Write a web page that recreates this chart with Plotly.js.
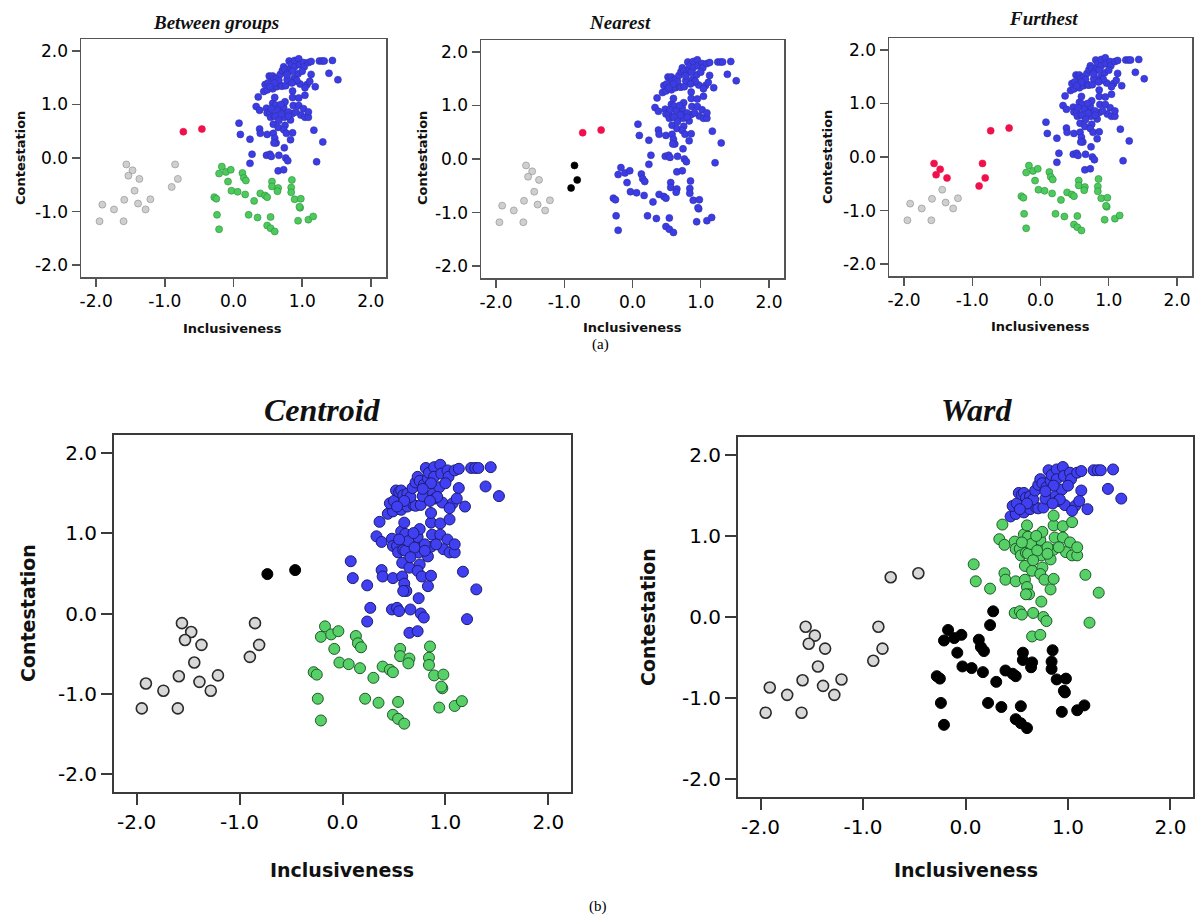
<!DOCTYPE html>
<html>
<head>
<meta charset="utf-8">
<script src="https://cdn.plot.ly/plotly-3.0.1.min.js"></script>
<style>html,body{margin:0;padding:0;background:#fff;}#chart{width:1195px;height:916px;}</style>
</head>
<body>
<div id="chart"></div>
<script>
// ---- Data: groups of countries (Inclusiveness, Contestation) ----
// A: far-left, upper part
const groupA_x = [-1.56, -1.47, -1.53, -1.37];
const groupA_y = [-0.12, -0.23, -0.33, -0.39];
// B: far-left, lower part
const groupB_x = [-1.44, -1.59, -1.21, -1.39, -1.91, -1.74, -1.28, -1.95, -1.60];
const groupB_y = [-0.61, -0.78, -0.77, -0.85, -0.87, -0.96, -0.96, -1.18, -1.18];
// C: middle-left trio
const groupC_x = [-0.85, -0.81, -0.90];
const groupC_y = [-0.12, -0.39, -0.54];
// D: isolated pair
const groupD_x = [-0.73, -0.46];
const groupD_y = [0.49, 0.54];
// E: bridge points
const groupE_x = [0.27, 0.24];
const groupE_y = [0.07, -0.10];
// F: lower-right cloud
const groupF_x = [-0.17,-0.21,-0.11,-0.04,0.13,0.15,0.18,-0.08,-0.03,0.06,0.17,0.30,0.39,0.46,0.49,-0.28,-0.25,-0.24,-0.21,0.22,0.35,0.54,0.49,0.54,0.60,0.56,0.56,0.65,0.64,0.85,0.84,0.84,0.89,0.98,0.97,0.96,0.94,1.09,1.16];
const groupF_y = [-0.16,-0.29,-0.26,-0.22,-0.28,-0.37,-0.42,-0.44,-0.61,-0.63,-0.68,-0.80,-0.66,-0.70,-0.73,-0.73,-0.76,-1.06,-1.33,-1.06,-1.11,-1.10,-1.26,-1.31,-1.37,-0.44,-0.53,-0.56,-0.62,-0.41,-0.55,-0.64,-0.77,-0.76,-0.93,-0.91,-1.17,-1.15,-1.09];
// G: middle-right cloud
const groupG_x = [0.08,0.10,0.24,0.36,0.33,0.38,0.38,0.39,0.49,0.48,0.49,0.53,0.54,0.57,0.60,0.61,0.59,0.61,0.58,0.58,0.60,0.62,0.59,0.65,0.68,0.71,0.73,0.74,0.75,0.73,0.77,0.83,0.86,0.83,0.86,0.87,0.86,0.86,0.95,0.95,1.02,0.98,1.04,1.09,1.09,1.04,1.17,1.30,1.21,0.74,0.48,0.53,0.55,0.66,0.76,0.79,0.65,0.73,0.64,0.70,0.80,0.66,0.80,0.91,0.55,0.75,0.69];
const groupG_y = [0.65,0.44,0.35,1.14,0.96,0.89,0.54,0.46,0.44,0.93,0.84,0.84,0.76,1.02,1.13,0.99,0.79,0.78,0.63,0.46,0.37,0.28,0.28,0.57,0.91,0.87,0.95,0.76,0.61,0.53,0.46,0.34,0.47,0.71,0.83,0.98,1.13,1.25,1.12,0.98,0.92,0.80,0.76,0.76,0.86,1.17,0.52,0.30,-0.07,0.19,0.05,0.07,0.03,0.05,0.00,-0.05,-0.24,-0.22,0.90,0.82,0.86,0.70,0.78,0.86,0.92,1.05,1.00];
// H: top-right cloud
const groupH_x = [0.44,0.49,0.46,0.50,0.52,0.55,0.57,0.59,0.63,0.57,0.63,0.69,0.71,0.76,0.66,0.68,0.71,0.73,0.75,0.78,0.79,0.83,0.81,0.84,0.89,0.89,0.88,0.90,0.95,0.96,0.94,0.97,1.02,1.03,1.07,1.09,1.13,1.13,1.11,1.19,1.04,1.25,1.29,1.32,1.44,1.39,1.52,0.92,0.86,0.78,0.85,1.00,0.60,0.53];
const groupH_y = [1.24,1.27,1.37,1.40,1.53,1.51,1.53,1.47,1.49,1.29,1.33,1.35,1.34,1.35,1.45,1.56,1.63,1.70,1.65,1.46,1.60,1.68,1.81,1.75,1.82,1.70,1.49,1.43,1.85,1.74,1.57,1.38,1.78,1.70,1.37,1.78,1.80,1.56,1.43,1.33,1.31,1.81,1.81,1.81,1.82,1.58,1.46,1.45,1.62,1.55,1.40,1.62,1.40,1.33];

const tickValues = [-2, -1, 0, 1, 2];
const tickLabels = ['-2.0', '-1.0', '0.0', '1.0', '2.0'];
const panelTitles = ['Between groups', 'Nearest', 'Furthest', 'Centroid', 'Ward'];
const axisTitleX = 'Inclusiveness';
const axisTitleY = 'Contestation';

// ---- Helpers ----
const G = {
  A: [groupA_x, groupA_y], B: [groupB_x, groupB_y], C: [groupC_x, groupC_y],
  D: [groupD_x, groupD_y], E: [groupE_x, groupE_y], F: [groupF_x, groupF_y],
  G: [groupG_x, groupG_y], H: [groupH_x, groupH_y]
};
function join(keys) {
  let xs = [], ys = [];
  keys.forEach(k => { xs = xs.concat(G[k][0]); ys = ys.concat(G[k][1]); });
  return [xs, ys];
}
const W = 1195, H = 916;
const px = x => x / W;
const py = y => 1 - y / H;

const smallStyle = {
  gray:  {color: '#cfcfcf', line: '#8a8a8a'},
  blue:  {color: '#3c3ce6', line: '#3030a8'},
  green: {color: '#4ccb5c', line: '#2d8c3c'},
  red:   {color: '#f0104c', line: '#f0104c'},
  black: {color: '#000000', line: '#000000'}
};
const bigStyle = {
  gray:  {color: '#d8d8d8', line: '#2a2a2a'},
  blue:  {color: '#4040f2', line: '#1c1c70'},
  green: {color: '#57d068', line: '#1d5a29'},
  red:   {color: '#f0104c', line: '#600010'},
  black: {color: '#000000', line: '#000000'}
};

const panels = [
  {title: panelTitles[0], box: [81, 386, 39, 277], big: false,
   clusters: [['blue', ['E','G','H']], ['green', ['F']], ['gray', ['A','B','C']], ['red', ['D']]],
   tPos: [216, 22], yPos: [20, 158], xPos: [233, 329]},
  {title: panelTitles[1], box: [481, 784, 40, 278], big: false,
   clusters: [['blue', ['E','F','G','H']], ['gray', ['A','B']], ['black', ['C']], ['red', ['D']]],
   tPos: [620, 22], yPos: [422, 158], xPos: [632, 327]},
  {title: panelTitles[2], box: [889, 1192, 38, 276], big: false,
   clusters: [['blue', ['E','G','H']], ['green', ['F']], ['gray', ['B']], ['red', ['A','C','D']]],
   tPos: [1043, 19], yPos: [827, 157], xPos: [1040, 326]},
  {title: panelTitles[3], box: [114, 571, 435, 792], big: true,
   clusters: [['blue', ['E','G','H']], ['green', ['F']], ['gray', ['A','B','C']], ['black', ['D']]],
   tPos: [322, 410], yPos: [28, 613], xPos: [342, 870]},
  {title: panelTitles[4], box: [738, 1193, 437, 797], big: true,
   clusters: [['black', ['E','F']], ['green', ['G']], ['blue', ['H']], ['gray', ['A','B','C','D']]],
   tPos: [977, 410], yPos: [648, 617], xPos: [966, 870]}
];

const traces = [];
const layout = {
  width: W, height: H, margin: {l: 0, r: 0, t: 0, b: 0},
  paper_bgcolor: '#ffffff', plot_bgcolor: '#ffffff',
  showlegend: false, annotations: []
};

panels.forEach((p, i) => {
  const n = i + 1;
  const xa = 'xaxis' + (n === 1 ? '' : n), ya = 'yaxis' + (n === 1 ? '' : n);
  const xr = 'x' + (n === 1 ? '' : n), yr = 'y' + (n === 1 ? '' : n);
  const styles = p.big ? bigStyle : smallStyle;
  p.clusters.forEach(([col, keys]) => {
    const [xs, ys] = join(keys);
    const st = styles[col];
    traces.push({
      type: 'scatter', mode: 'markers', x: xs, y: ys, xaxis: xr, yaxis: yr,
      hoverinfo: 'x+y',
      marker: {size: p.big ? 11 : 7, color: st.color,
               line: {color: st.line, width: p.big ? (col === 'gray' ? 1.6 : 1) : 0.6}}
    });
  });
  const lineW = p.big ? 2 : 1.5;
  const lineC = p.big ? '#3a3a3a' : '#555555';
  const tickFont = {family: 'DejaVu Sans, Liberation Sans, Arial', size: p.big ? 20 : 17, color: '#000'};
  layout[xa] = {
    domain: [px(p.box[0]), px(p.box[1])], anchor: yr, range: [-2.22, 2.22],
    tickvals: tickValues, ticktext: tickLabels, ticks: 'outside',
    ticklen: p.big ? 11 : 8, tickwidth: lineW, tickcolor: lineC,
    showline: true, mirror: true, linecolor: lineC, linewidth: lineW,
    showgrid: false, zeroline: false, tickfont: tickFont, fixedrange: true
  };
  layout[ya] = {
    domain: [py(p.box[3]), py(p.box[2])], anchor: xr, range: [-2.22, 2.22],
    tickvals: tickValues, ticktext: tickLabels, ticks: 'outside',
    ticklen: p.big ? 11 : 8, tickwidth: lineW, tickcolor: lineC,
    showline: true, mirror: true, linecolor: lineC, linewidth: lineW,
    showgrid: false, zeroline: false, tickfont: tickFont, fixedrange: true
  };
  const axFont = {family: 'DejaVu Sans, Liberation Sans, Arial', size: p.big ? 19 : 13, color: '#111'};
  layout.annotations.push({
    xref: 'paper', yref: 'paper', x: px(p.tPos[0]), y: py(p.tPos[1]),
    xanchor: 'center', yanchor: 'middle', showarrow: false,
    text: '<b><i>' + p.title + '</i></b>',
    font: {family: 'Liberation Serif, Times New Roman, serif', size: p.big ? 32 : 19, color: '#111'}
  });
  layout.annotations.push({
    xref: 'paper', yref: 'paper', x: px(p.xPos[0]), y: py(p.xPos[1]),
    xanchor: 'center', yanchor: 'middle', showarrow: false,
    text: '<b>' + axisTitleX + '</b>', font: axFont
  });
  layout.annotations.push({
    xref: 'paper', yref: 'paper', x: px(p.yPos[0]), y: py(p.yPos[1]),
    xanchor: 'center', yanchor: 'middle', showarrow: false, textangle: -90,
    text: '<b>' + axisTitleY + '</b>', font: axFont
  });
});

layout.annotations.push({
  xref: 'paper', yref: 'paper', x: px(600), y: py(345), xanchor: 'center', yanchor: 'middle',
  showarrow: false, text: '(a)', font: {family: 'Liberation Serif, Times New Roman, serif', size: 15, color: '#000'}
});
layout.annotations.push({
  xref: 'paper', yref: 'paper', x: px(598), y: py(906), xanchor: 'center', yanchor: 'middle',
  showarrow: false, text: '(b)', font: {family: 'Liberation Serif, Times New Roman, serif', size: 15, color: '#000'}
});

Plotly.newPlot('chart', traces, layout, {displayModeBar: false, staticPlot: true});
</script>
</body>
</html>
